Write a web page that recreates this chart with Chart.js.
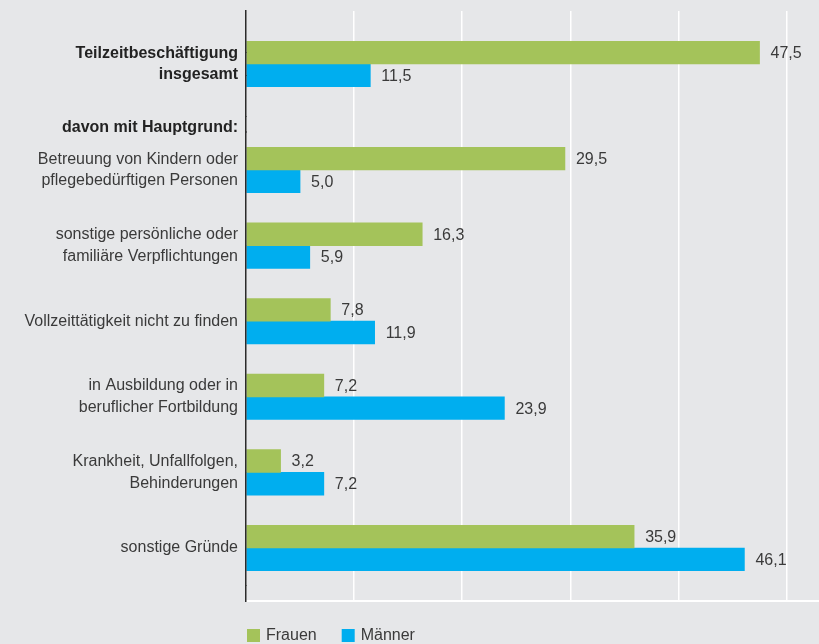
<!DOCTYPE html>
<html>
<head>
<meta charset="utf-8">
<script src="https://cdn.jsdelivr.net/npm/chart.js@4/dist/chart.umd.min.js"></script>
<style>
  html, body { margin: 0; padding: 0; background: #e6e7e9; }
  #wrap { width: 819px; height: 644px; }
</style>
</head>
<body>
<div id="wrap"><canvas id="c" width="819" height="644"></canvas></div>
<script>
// ---- data ----
const seriesNames = ["Frauen", "Männer"];
const totalLabel = [["Teilzeitbeschäftigung", "insgesamt"]];
const headLabel = ["davon mit Hauptgrund:"];
const reasonLabels = [
  ["Betreuung von Kindern oder", "pflegebedürftigen Personen"],
  ["sonstige persönliche oder", "familiäre Verpflichtungen"],
  "Vollzeittätigkeit nicht zu finden",
  ["in Ausbildung oder in", "beruflicher Fortbildung"],
  ["Krankheit, Unfallfolgen,", "Behinderungen"],
  "sonstige Gründe"
];
const frauenTotal = [47.5];
const maennerTotal = [11.5];
const frauenReasons = [29.5, 16.3, 7.8, 7.2, 3.2, 35.9];
const maennerReasons = [5.0, 5.9, 11.9, 23.9, 7.2, 46.1];
const xTicks = [0, 10, 20, 30, 40, 50];

// ---- styles ----
const GREEN = "#a4c35a";
const BLUE = "#00aeef";
const FONT = "'Liberation Sans', Arial, Helvetica, sans-serif";

const fixBox = (s) => {
  s.width = 246;
  s.paddingTop = 0;
  s.paddingBottom = 0;
};
const yBase = {
  type: "category",
  position: "left",
  stack: "rows",
  offset: true,
  grid: { display: false, drawTicks: false },
  border: { display: true, color: "#2b2b2b", width: 1.5, z: 1 },
  ticks: {
    autoSkip: false,
    padding: 8,
    color: "#3a3a3a",
    font: { family: FONT, size: 16, lineHeight: 1.35 }
  },
  afterFit: fixBox
};
const boldTicks = Object.assign({}, yBase.ticks, {
  color: "#222222",
  font: { family: FONT, size: 16, weight: "bold", lineHeight: 1.35 }
});

const valueLabels = {
  id: "valueLabels",
  afterDatasetsDraw(chart) {
    const ctx = chart.ctx;
    ctx.save();
    ctx.font = "16px " + FONT;
    ctx.fillStyle = "#3a3a3a";
    ctx.textAlign = "left";
    ctx.textBaseline = "middle";
    chart.data.datasets.forEach((ds, i) => {
      const meta = chart.getDatasetMeta(i);
      meta.data.forEach((el, j) => {
        const v = ds.data[j];
        if (v === null || v === undefined || !isFinite(el.x)) return;
        ctx.fillText(v.toFixed(1).replace(".", ","), el.x + 11, el.y + 1);
      });
    });
    ctx.restore();
  }
};

const customLegend = {
  id: "customLegend",
  afterDraw(chart) {
    const ctx = chart.ctx;
    const area = chart.chartArea;
    const colors = [GREEN, BLUE];
    let x = area.left + 1;
    const top = area.bottom + 28;
    ctx.save();
    ctx.font = "16px " + FONT;
    ctx.textBaseline = "middle";
    ctx.textAlign = "left";
    seriesNames.forEach((name, i) => {
      ctx.fillStyle = colors[i];
      ctx.fillRect(x, top, 13, 13);
      ctx.fillStyle = "#3a3a3a";
      ctx.fillText(name, x + 19, top + 7);
      x += 19 + ctx.measureText(name).width + 25;
    });
    ctx.restore();
  }
};

new Chart(document.getElementById("c"), {
  type: "bar",
  data: {
    datasets: [
      { label: seriesNames[0], data: frauenTotal, yAxisID: "yTotalF", grouped: false, clip: false, backgroundColor: GREEN },
      { label: seriesNames[1], data: maennerTotal, yAxisID: "yTotalM", grouped: false, clip: false, backgroundColor: BLUE },
      { label: seriesNames[0], data: frauenReasons, yAxisID: "yReasons", clip: false, backgroundColor: GREEN },
      { label: seriesNames[1], data: maennerReasons, yAxisID: "yReasons", clip: false, backgroundColor: BLUE }
    ]
  },
  options: {
    indexAxis: "y",
    responsive: false,
    devicePixelRatio: 1,
    animation: false,
    barThickness: 22.7,
    layout: { padding: { top: 11, bottom: 43, left: 0, right: 0 } },
    plugins: { legend: { display: false }, tooltip: { enabled: false } },
    scales: {
      x: {
        type: "linear",
        position: "bottom",
        stacked: false,
        min: 0,
        max: 53,
        afterBuildTicks: (s) => { s.ticks = xTicks.map(v => ({ value: v })); },
        ticks: { display: false },
        grid: {
          drawTicks: false,
          lineWidth: 1.5,
          color: (c) => (c.tick && c.tick.value === 0) ? "rgba(0,0,0,0)" : "#ffffff"
        },
        border: { display: true, color: "#ffffff", width: 2 }
      },
      yTop: Object.assign({}, yBase, { labels: [""], weight: 6, stackWeight: 41.65 }),
      yTotalF: Object.assign({}, yBase, { labels: [""], offset: false, weight: 5, stackWeight: 22.7 }),
      yTotalM: Object.assign({}, yBase, {
        labels: totalLabel, offset: false, weight: 4, stackWeight: 41.65,
        ticks: Object.assign({}, boldTicks, { labelOffset: -11.35 })
      }),
      yHead: Object.assign({}, yBase, {
        labels: headLabel, weight: 3, stackWeight: 15.2,
        ticks: Object.assign({}, boldTicks, { labelOffset: 3 })
      }),
      yReasons: Object.assign({}, yBase, { labels: reasonLabels, weight: 2, stackWeight: 453.6 }),
      yPad: Object.assign({}, yBase, { labels: [""], weight: 1, stackWeight: 15.2 })
    }
  },
  plugins: [valueLabels, customLegend]
});
</script>
</body>
</html>
